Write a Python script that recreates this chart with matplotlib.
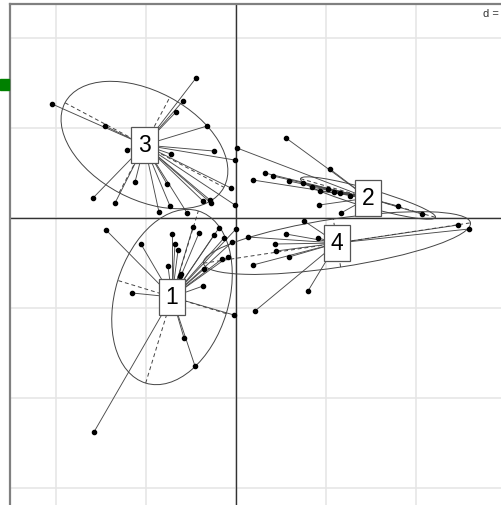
import numpy as np
import matplotlib
matplotlib.use("Agg")
import matplotlib.pyplot as plt
from matplotlib.patches import Ellipse, Rectangle

# points of each class (grid unit d = 1)
g1_x = [-1.444, -0.711, -0.478, -0.411, -0.189, 0.0, -0.244, -0.133, -0.044, -1.056, -0.678, -0.644,
        -0.756, -0.611, -0.622, -0.356, -0.156, -0.089, -0.367, -1.156, -0.022, -0.578, -0.456, -1.578]
g1_y = [-0.133, -0.178, -0.100, -0.167, -0.111, -0.122, -0.189, -0.222, -0.267, -0.289, -0.289, -0.356,
        -0.533, -0.622, -0.644, -0.567, -0.456, -0.433, -0.756, -0.833, -1.078, -1.333, -1.644, -2.378]

g2_x = [0.556, 0.011, 1.044, 0.322, 0.411, 0.189, 0.589, 0.744, 0.844, 0.933, 1.022, 1.089,
        1.156, 1.267, 0.922, 1.167, 1.800, 2.067]
g2_y = [0.889, 0.778, 0.544, 0.500, 0.467, 0.422, 0.411, 0.389, 0.344, 0.300, 0.322, 0.289,
        0.278, 0.244, 0.144, 0.056, 0.133, 0.044]

g3_x = [-0.444, -0.589, -0.667, -2.044, -1.456, -0.322, -1.211, -0.244, -0.722, -0.011, -1.122,
        -0.767, -0.056, -1.589, -1.344, -0.289, -0.367, -0.278, -0.011, -0.856, -0.733, -0.544]
g3_y = [1.556, 1.300, 1.178, 1.267, 1.022, 1.022, 0.756, 0.744, 0.711, 0.644, 0.400,
        0.378, 0.333, 0.222, 0.167, 0.200, 0.189, 0.167, 0.144, 0.067, 0.133, 0.056]

g4_x = [0.133, 0.556, 0.911, 0.756, 0.433, 0.444, 0.589, 0.189, 0.800, 0.211, 2.467, 2.589]
g4_y = [-0.211, -0.178, -0.222, -0.033, -0.289, -0.367, -0.433, -0.522, -0.811, -1.033, -0.078, -0.122]

# class centres and ellipses (half axes, angle in degrees)
labels = ["1", "2", "3", "4"]
cx = [-0.711, 1.467, -1.017, 1.122]
cy = [-0.878, 0.222, 0.811, -0.278]
ell_a = [1.0, 0.78, 1.0, 1.5]
ell_b = [0.63, 0.10, 0.60, 0.27]
ell_ang = [73, -16, -28, 8.6]

groups = [(g1_x, g1_y), (g2_x, g2_y), (g3_x, g3_y), (g4_x, g4_y)]

plt.rcParams['font.family'] = ['Liberation Sans', 'DejaVu Sans']

fig = plt.figure(figsize=(5.02, 5.05), dpi=100)
W, H = 502, 505
ax = fig.add_axes([10 / W, 1 - 506 / H, 496 / W, 502 / H])
ax.set_aspect("equal", adjustable="datalim")
ax.set_xlim(-2.511, 3.0)
ax.set_ylim(-3.2, 2.378)

ax.set_xticks(np.arange(-2, 4))
ax.set_yticks(np.arange(-3, 3))
ax.grid(True, color="#e6e6e6", linewidth=1.2)
ax.tick_params(length=0, labelbottom=False, labelleft=False)
ax.set_axisbelow(True)
for s in ["right", "bottom"]:
    ax.spines[s].set_visible(False)
for s in ["left", "top"]:
    ax.spines[s].set_color("#808080")
    ax.spines[s].set_linewidth(1.6)

ax.axhline(0, color="#333333", lw=1, zorder=1)
ax.axvline(0, color="#333333", lw=1, zorder=1)

for i, (gx, gy) in enumerate(groups):
    for px, py in zip(gx, gy):
        ax.plot([cx[i], px], [cy[i], py], color="#4a4a4a", lw=0.65, zorder=2)
    ax.scatter(gx, gy, s=9, color="black", zorder=4)
    ax.add_patch(Ellipse((cx[i], cy[i]), 2 * ell_a[i], 2 * ell_b[i], angle=ell_ang[i],
                         fill=False, edgecolor="#444444", lw=0.7, zorder=3))
    t = np.radians(ell_ang[i])
    ax.plot([cx[i] - ell_a[i] * np.cos(t), cx[i] + ell_a[i] * np.cos(t)],
            [cy[i] - ell_a[i] * np.sin(t), cy[i] + ell_a[i] * np.sin(t)],
            color="#444444", lw=0.7, ls=(0, (4, 3)), zorder=3)
    ax.plot([cx[i] + ell_b[i] * np.sin(t), cx[i] - ell_b[i] * np.sin(t)],
            [cy[i] - ell_b[i] * np.cos(t), cy[i] + ell_b[i] * np.cos(t)],
            color="#444444", lw=0.7, ls=(0, (4, 3)), zorder=3)

for i, lab in enumerate(labels):
    ax.text(cx[i], cy[i], lab, fontsize=16.5, ha="center", va="center", zorder=6,
            bbox=dict(boxstyle="square,pad=0.3", fc="white", ec="#555555", lw=0.9))

fig.text(483 / W, 1 - 14 / H, "d =", fontsize=8, color="#333333", ha="left", va="center")
fig.patches.append(Rectangle((0, 1 - 90 / H), 9 / W, 11 / H, transform=fig.transFigure,
                             color="#008000", figure=fig))

fig.savefig("out.png", dpi=100)
